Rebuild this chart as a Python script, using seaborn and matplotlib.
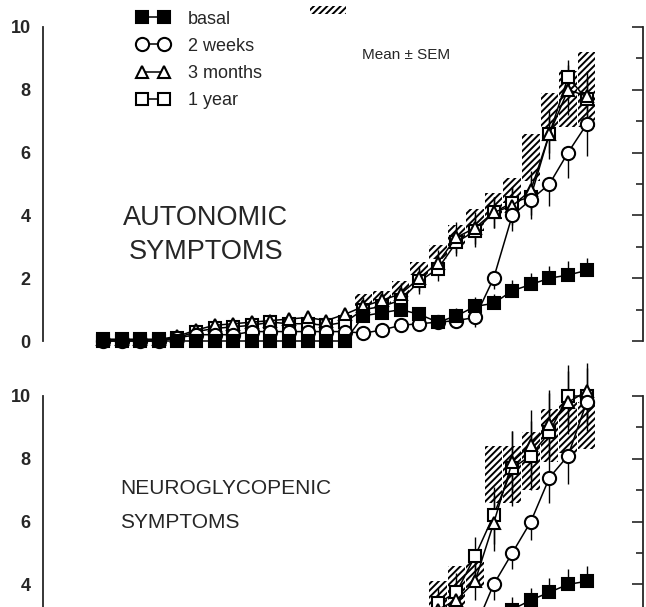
import numpy as np
import matplotlib
matplotlib.use("Agg")
import matplotlib.pyplot as plt
import matplotlib.ticker as mtick
from matplotlib.lines import Line2D
from matplotlib.patches import Rectangle
import seaborn as sns

# sampling points (27 per panel)
x_idx = np.arange(27)
nan = np.nan

# ---------------- autonomic symptoms (top panel) ----------------
basal_a = [0, 0, 0, 0, 0, 0, 0, 0, 0, 0, 0, 0, 0, 0,
           0.8, 0.9, 1.0, 0.85, 0.6, 0.8, 1.1, 1.2, 1.6, 1.8, 2.0, 2.1, 2.25]
week2_a = [0, 0, 0, 0, 0.1, 0.2, 0.2, 0.2, 0.3, 0.3, 0.3, 0.3, 0.3, 0.3,
           0.25, 0.35, 0.5, 0.55, 0.6, 0.65, 0.75, 2.0, 4.0, 4.5, 5.0, 6.0, 6.9]
month3_a = [0.05, 0.05, 0.05, 0.05, 0.15, 0.35, 0.5, 0.55, 0.6, 0.65, 0.7, 0.75, 0.65, 0.85,
            1.1, 1.3, 1.5, 2.0, 2.5, 3.3, 3.6, 4.1, 4.3, 4.8, 6.6, 8.0, 7.8]
year1_a = [0.05, 0.05, 0.05, 0.05, 0.1, 0.3, 0.4, 0.45, 0.5, 0.6, 0.55, 0.55, 0.5, 0.6,
           1.0, 1.1, 1.3, 1.9, 2.3, 3.15, 3.5, 4.1, 4.4, 4.6, 6.6, 8.4, 7.7]

sem_basal_a = [0.05] * 14 + [0.2, 0.2, 0.2, 0.2, 0.2, 0.25, 0.3, 0.3, 0.35, 0.35, 0.4, 0.45, 0.4]
sem_week2_a = [0.1] * 14 + [0.15, 0.15, 0.2, 0.2, 0.2, 0.25, 0.3, 0.35, 0.5, 0.6, 0.7, 0.8, 1.0]
sem_month3_a = [0.15] * 14 + [0.3, 0.3, 0.35, 0.4, 0.4, 0.5, 0.5, 0.5, 0.6, 0.6, 0.8, 0.8, 0.8]
sem_year1_a = [0.15] * 14 + [0.3, 0.3, 0.35, 0.4, 0.4, 0.45, 0.5, 0.5, 0.5, 0.6, 0.6, 0.55, 0.7]

hatch_lo_a = [nan] * 14 + [1.1, 1.2, 1.4, 2.1, 2.6, 3.0, 3.5, 3.9, 4.4, 5.1, 6.8, 6.8, 6.8]
hatch_hi_a = [nan] * 14 + [1.5, 1.6, 1.9, 2.5, 3.05, 3.7, 4.2, 4.7, 5.2, 6.6, 7.9, 8.6, 9.2]

# ---------------- neuroglycopenic symptoms (bottom panel) ----------------
basal_n = [0, 0, 0, 0, 0, 0, 0, 0, 0, 0, 0, 0, 0, 0,
           0.3, 0.5, 0.7, 0.9, 1.2, 1.6, 2.0, 2.6, 3.2, 3.5, 3.75, 4.0, 4.1]
week2_n = [0.1, 0.1, 0.1, 0.1, 0.1, 0.1, 0.1, 0.1, 0.1, 0.1, 0.1, 0.1, 0.1, 0.1,
           0.3, 0.5, 0.7, 1.0, 1.4, 2.0, 2.6, 4.0, 5.0, 6.0, 7.4, 8.1, 9.8]
month3_n = [0.1, 0.1, 0.1, 0.1, 0.2, 0.3, 0.4, 0.4, 0.5, 0.5, 0.6, 0.6, 0.6, 0.7,
            1.0, 1.4, 1.8, 2.4, 3.2, 3.5, 4.1, 5.95, 7.9, 8.45, 9.1, 9.8, 10.15]
year1_n = [0.1, 0.1, 0.1, 0.1, 0.2, 0.3, 0.4, 0.4, 0.5, 0.5, 0.6, 0.6, 0.6, 0.7,
           1.0, 1.5, 2.0, 2.7, 3.4, 3.75, 4.9, 6.2, 7.7, 8.1, 8.85, 10.0, 10.0]

sem_basal_n = [0.05] * 14 + [0.1, 0.15, 0.2, 0.2, 0.25, 0.3, 0.3, 0.35, 0.4, 0.4, 0.45, 0.5, 0.5]
sem_week2_n = [0.1] * 14 + [0.2, 0.2, 0.3, 0.3, 0.4, 0.4, 0.5, 0.5, 0.5, 0.6, 0.8, 0.9, 0.9]
sem_month3_n = [0.2] * 14 + [0.3, 0.4, 0.4, 0.5, 0.5, 0.6, 0.6, 0.9, 1.0, 1.1, 1.1, 1.0, 0.9]
sem_year1_n = [0.2] * 14 + [0.3, 0.4, 0.4, 0.5, 0.5, 0.6, 0.6, 0.9, 1.2, 1.1, 1.25, 1.0, 0.9]

hatch_lo_n = [nan] * 18 + [3.0, 3.3, 3.9, 6.6, 6.6, 7.0, 7.9, 8.2, 8.3]
hatch_hi_n = [nan] * 18 + [4.1, 4.6, 4.7, 8.4, 8.4, 8.85, 9.6, 9.8, 9.8]

legend_labels = ["basal", "2 weeks", "3 months", "1 year"]

sns.set_style("white")
plt.rcParams["font.family"] = ["Liberation Sans", "DejaVu Sans"]
plt.rcParams["hatch.linewidth"] = 1.4

HATCH = "/////"

fig = plt.figure(figsize=(6.46, 6.07), dpi=100)
ax_top = fig.add_axes([43 / 646, (607 - 341) / 607, 600 / 646, 314 / 607])
ax_bot = fig.add_axes([43 / 646, (607 - 710) / 607, 600 / 646, 314 / 607])

# style of each series: marker, face colour, size, error bar direction
styles = [
    ("s", "black", 8.0, "up"),
    ("o", "white", 9.5, "down"),
    ("^", "white", 9.0, "both"),
    ("s", "white", 8.5, "both"),
]


def draw_panel(ax, series, sems, hatch_lo, hatch_hi, ticks):
    lo = np.array(hatch_lo, dtype=float)
    hi = np.array(hatch_hi, dtype=float)
    ok = ~np.isnan(lo)
    ax.bar(x_idx[ok], hi[ok] - lo[ok], bottom=lo[ok], width=0.95,
           fill=False, hatch=HATCH, linewidth=0, edgecolor="black", zorder=1)

    # draw 1 year first, basal last so filled squares sit on top
    for k in [3, 2, 1, 0]:
        marker, face, msize, direction = styles[k]
        vals = np.array(series[k], dtype=float)
        err = np.array(sems[k], dtype=float)
        low = err if direction in ("down", "both") else np.zeros_like(err)
        up = err if direction in ("up", "both") else np.zeros_like(err)
        ax.errorbar(x_idx, vals, yerr=[low, up], fmt="none", ecolor="black",
                    elinewidth=1.0, capsize=0, zorder=2 + k * 0.1, clip_on=False)
        sns.lineplot(x=x_idx, y=vals, ax=ax, color="black", linewidth=1.1,
                     marker=marker, markersize=msize, mfc=face, mec="black",
                     mew=1.5, zorder=3 + (3 - k), clip_on=False, legend=False)

    ax.set_xlim(-3.23, 29.03)
    ax.set_ylim(0, 10)
    ax.set_yticks(ticks)
    ax.yaxis.set_minor_locator(mtick.MultipleLocator(1))
    ax.tick_params(axis="y", which="major", direction="in", length=8, width=1.2,
                   right=True, labelsize=13, pad=9)
    ax.tick_params(axis="y", which="minor", direction="in", length=5, width=1.2, right=True)
    for lab in ax.get_yticklabels():
        lab.set_fontweight("bold")
    ax.xaxis.set_visible(False)
    ax.set_xlabel("")
    ax.set_ylabel("")
    for side in ["top", "bottom"]:
        ax.spines[side].set_visible(False)
    for side in ["left", "right"]:
        ax.spines[side].set_linewidth(1.3)
    ax.patch.set_alpha(0)


draw_panel(ax_top, [basal_a, week2_a, month3_a, year1_a],
           [sem_basal_a, sem_week2_a, sem_month3_a, sem_year1_a],
           hatch_lo_a, hatch_hi_a, [0, 2, 4, 6, 8, 10])
draw_panel(ax_bot, [basal_n, week2_n, month3_n, year1_n],
           [sem_basal_n, sem_week2_n, sem_month3_n, sem_year1_n],
           hatch_lo_n, hatch_hi_n, [4, 6, 8, 10])

ax_top.text(5.5, 3.92, "AUTONOMIC", ha="center", va="center", fontsize=19.5)
ax_top.text(5.55, 2.83, "SYMPTOMS", ha="center", va="center", fontsize=19.5)
ax_bot.text(0.9, 7.05, "NEUROGLYCOPENIC", ha="left", va="center", fontsize=15)
ax_bot.text(0.9, 5.98, "SYMPTOMS", ha="left", va="center", fontsize=15)

fig.text(362 / 646, 1 - 55 / 607, "Mean ± SEM", ha="left", va="center", fontsize=11)

# hatched swatch at the top edge
fig.patches.append(Rectangle((310 / 646, 1 - 14 / 607), 36 / 646, 8 / 607,
                             transform=fig.transFigure, fill=False, hatch=HATCH,
                             linewidth=0, edgecolor="black"))

handles = []
for marker, face, msize, _ in styles:
    handles.append(Line2D([], [], color="black", linewidth=1.1, marker=marker,
                          markersize=msize, mfc=face, mec="black", mew=1.5))
fig.legend(handles, legend_labels, loc="upper left", bbox_to_anchor=(124 / 646, 1 + 2 / 607),
           frameon=False, numpoints=2, fontsize=13, handlelength=1.8,
           handletextpad=1.05, labelspacing=0.56, borderpad=0.2)

fig.savefig("out.png", dpi=100)
